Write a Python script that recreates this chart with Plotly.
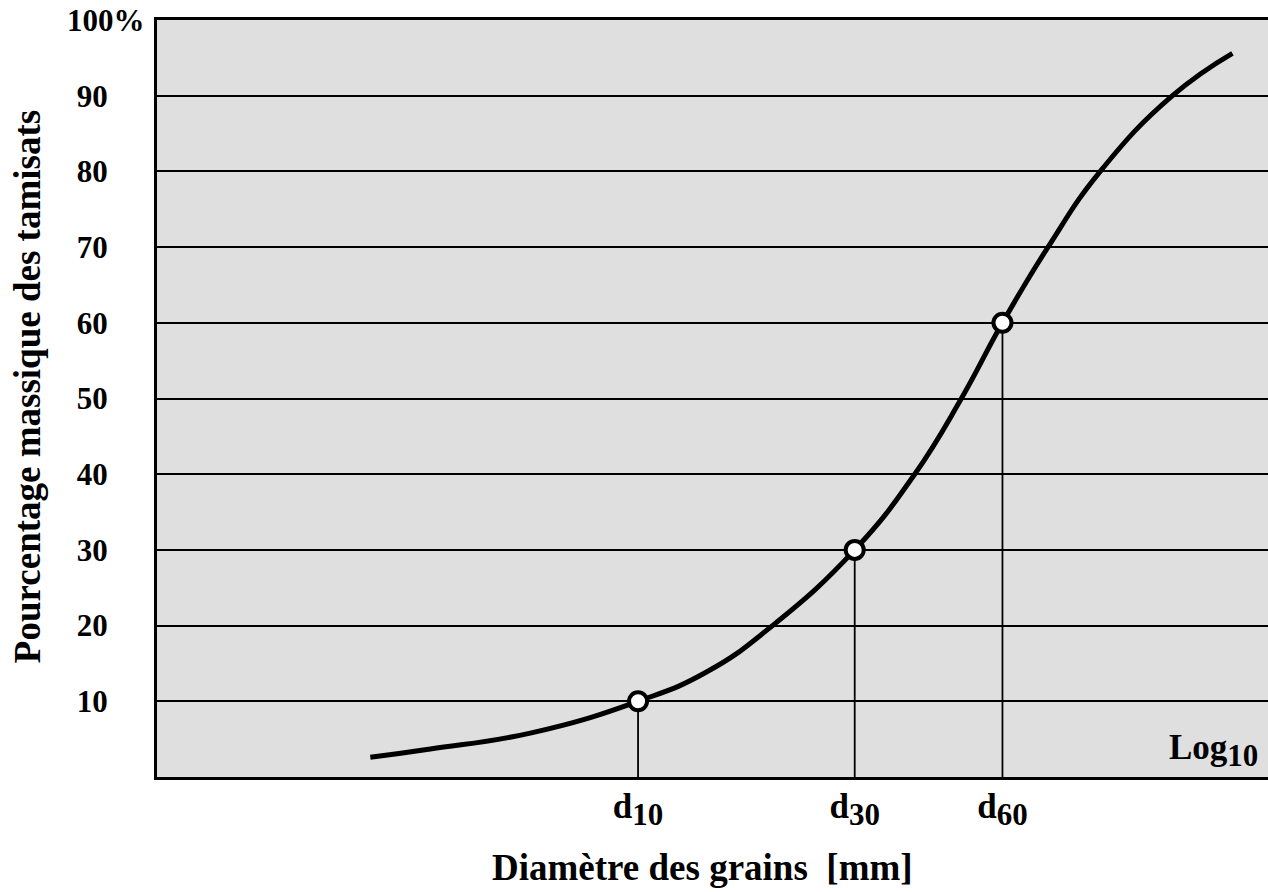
import plotly.graph_objects as go

# Curve (x in arbitrary log10 units, y in %)
curve_x = [1.92, 2.46, 3.36, 4.33, 4.95, 5.54, 6.28, 6.82, 7.24, 7.61, 8.02, 8.49, 9.14, 9.68]
curve_y = [2.6, 3.7, 5.8, 10.0, 13.9, 20.0, 30.0, 40.0, 50.0, 60.0, 70.0, 80.0, 90.0, 95.6]

# Characteristic diameters
d_names = ["10", "30", "60"]
d_x = [4.33, 6.28, 7.61]
d_y = [10, 30, 60]

y_tickvals = [10, 20, 30, 40, 50, 60, 70, 80, 90]
y_ticktext = ["10", "20", "30", "40", "50", "60", "70", "80", "90"]
y_top_label = "100%"

FONT = "Liberation Serif, Times New Roman, serif"


def subtxt(main, sub, size=31):
    return f"{main}<sub><span style='font-size:{size}px'>{sub}</span></sub>"


d_labels = [subtxt("d", n) for n in d_names]

fig = go.Figure()

# vertical drop lines
for xv, yv in zip(d_x, d_y):
    fig.add_trace(go.Scatter(x=[xv, xv], y=[0, yv], mode="lines",
                             line=dict(color="black", width=1.8),
                             showlegend=False, hoverinfo="skip"))

fig.add_trace(go.Scatter(x=curve_x, y=curve_y, mode="lines",
                         line=dict(color="black", width=5, shape="spline", smoothing=1.3),
                         showlegend=False))

fig.add_trace(go.Scatter(x=d_x, y=d_y, mode="markers",
                         marker=dict(size=18, color="white", line=dict(color="black", width=4)),
                         showlegend=False))

fig.update_layout(
    width=1268, height=892,
    margin=dict(l=157, r=0, t=20, b=115),
    plot_bgcolor="#dfdfdf",
    paper_bgcolor="white",
    font=dict(family=FONT, color="black"),
    xaxis=dict(
        range=[0, 10], showgrid=False, zeroline=False,
        showline=True, linecolor="black", linewidth=3, mirror=True,
        tickvals=d_x, ticktext=d_labels, ticks="",
        tickfont=dict(family=FONT, size=35, weight="bold", color="black"),
        ticklabelstandoff=-4,
    ),
    yaxis=dict(
        range=[0, 100], showgrid=True, gridcolor="black", gridwidth=2,
        zeroline=False, showline=True, linecolor="black", linewidth=3, mirror=False,
        tickvals=y_tickvals, ticktext=y_ticktext, ticks="",
        tickfont=dict(family=FONT, size=31, weight="bold", color="black"),
        ticklabelstandoff=40,
    ),
    annotations=[
        dict(text=y_top_label, xref="paper", yref="y", x=0, y=100,
             xanchor="right", yanchor="middle", xshift=-10, showarrow=False,
             font=dict(family=FONT, size=31, weight="bold", color="black")),
        dict(text=subtxt("Log", "10"), xref="paper", yref="paper",
             x=1, y=0, xanchor="right", yanchor="bottom", xshift=-8, yshift=2,
             showarrow=False,
             font=dict(family=FONT, size=35, weight="bold", color="black")),
        dict(text="Diamètre des grains  [mm]", xref="paper", yref="paper",
             x=0.491, y=0, xanchor="center", yanchor="middle", yshift=-90,
             showarrow=False,
             font=dict(family=FONT, size=37, weight="bold", color="black")),
        dict(text="Pourcentage massique des tamisats", xref="paper", yref="paper",
             x=0, y=0.515, xanchor="center", yanchor="middle", xshift=-130,
             textangle=-90, showarrow=False,
             font=dict(family=FONT, size=37, weight="bold", color="black")),
    ],
)

fig.write_html("out.html", config={"displayModeBar": False},
               post_script="document.body.style.margin='0';")
